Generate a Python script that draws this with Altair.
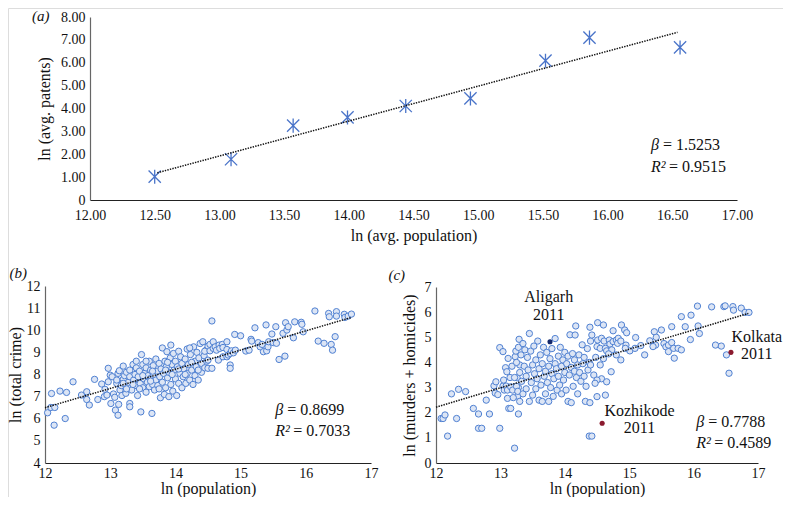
import altair as alt
import pandas as pd

FONT = "Liberation Serif"

# ---------------- data ----------------
# (a) binned averages
a_pop = [12.50, 13.09, 13.57, 13.99, 14.44, 14.94, 15.52, 15.86, 16.56]
a_pat = [1.02, 1.78, 3.25, 3.61, 4.11, 4.44, 6.09, 7.10, 6.67]
a_fit_x = [12.52, 16.54]
a_fit_y = [1.19, 7.33]
a_stats = ["= 1.5253", "= 0.9515"]

# (b) ln(population) vs ln(total crime)
b_points = [
    (12.04, 6.27), (12.10, 7.14), (12.09, 6.51), (12.15, 6.51), (12.14, 5.71), (12.23, 7.25),
    (12.31, 6.01), (12.33, 7.19), (12.43, 7.67), (12.56, 7.07), (12.64, 7.22), (12.64, 6.87),
    (12.68, 6.62), (12.76, 7.78), (12.81, 6.87), (12.87, 7.57), (12.91, 7.0), (12.92, 7.33),
    (12.95, 7.07),
    (12.97, 8.28), (13.0, 7.97), (12.97, 7.67), (13.01, 6.69), (13.03, 7.9), (13.05, 7.12),
    (13.07, 6.97), (13.08, 6.39), (13.1, 7.6), (13.12, 6.16), (13.12, 8.05), (13.13, 6.65),
    (13.14, 8.17), (13.15, 7.3), (13.17, 7.5), (13.18, 7.05), (13.2, 7.78), (13.2, 8.38),
    (13.22, 7.95), (13.24, 7.15), (13.25, 8.1), (13.27, 7.45), (13.28, 7.65), (13.3, 6.69),
    (13.3, 6.54), (13.3, 8.2), (13.3, 7.9),
    (13.33, 7.3), (13.35, 8.45), (13.36, 7.75), (13.38, 8.0), (13.4, 7.5), (13.4, 8.3),
    (13.42, 7.05), (13.43, 7.9), (13.45, 8.15), (13.46, 7.6), (13.47, 6.31), (13.48, 8.9),
    (13.5, 7.4), (13.5, 8.45), (13.52, 7.8), (13.53, 8.05), (13.55, 7.2), (13.55, 8.3),
    (13.57, 7.65), (13.58, 7.95), (13.6, 8.6), (13.6, 7.45), (13.62, 8.2), (13.63, 7.85),
    (13.64, 6.24), (13.65, 7.55), (13.66, 8.4), (13.67, 8.0), (13.68, 7.3), (13.7, 8.7),
    (13.7, 7.75),
    (13.72, 8.15), (13.73, 7.5), (13.75, 8.5), (13.76, 7.9), (13.77, 6.95), (13.78, 8.25),
    (13.8, 9.2), (13.8, 7.65), (13.82, 8.05), (13.83, 7.1), (13.84, 8.6), (13.85, 7.4),
    (13.86, 8.35), (13.87, 9.03), (13.88, 7.85), (13.9, 8.1), (13.9, 7.0), (13.92, 8.75),
    (13.93, 9.33), (13.93, 7.55), (13.95, 8.45), (13.96, 7.25), (13.97, 8.95), (13.98, 8.2),
    (14.0, 7.8), (14.0, 8.6), (14.02, 7.05), (14.03, 8.35), (14.05, 7.6), (14.05, 9.05),
    (14.07, 8.05), (14.08, 8.8), (14.1, 7.4), (14.1, 8.5),
    (14.12, 7.9), (14.13, 8.25), (14.15, 8.7), (14.16, 7.6), (14.18, 9.15), (14.18, 8.05),
    (14.2, 8.45), (14.22, 7.75), (14.23, 8.9), (14.25, 8.2), (14.27, 7.55), (14.28, 9.25),
    (14.3, 8.6), (14.3, 7.95), (14.32, 8.35), (14.33, 9.0), (14.35, 7.75), (14.36, 8.75),
    (14.38, 9.4), (14.4, 8.5), (14.4, 8.1), (14.42, 9.48), (14.44, 8.85), (14.45, 8.3),
    (14.47, 9.1), (14.48, 8.6), (14.5, 9.28), (14.5, 8.28), (14.5, 8.65),
    (13.25, 7.35), (13.45, 7.35), (13.55, 8.6), (13.75, 7.35), (13.95, 8.0), (14.15, 8.0),
    (14.05, 8.25), (13.65, 8.15), (13.85, 8.2), (14.25, 8.55), (14.35, 8.2), (13.35, 7.55),
    (13.5, 7.95), (13.62, 7.7), (13.88, 8.55), (14.22, 9.2), (14.45, 9.05), (13.4, 8.6),
    (13.1, 7.75), (13.2, 7.6),
    (14.53, 9.07), (14.53, 9.36), (14.56, 10.42), (14.56, 8.28), (14.58, 9.48), (14.58, 9.18),
    (14.61, 9.25), (14.63, 9.1), (14.66, 8.65), (14.67, 9.33), (14.68, 9.18), (14.72, 9.36),
    (14.73, 9.22), (14.73, 8.8), (14.79, 9.48), (14.79, 9.13), (14.79, 8.8), (14.81, 8.88),
    (14.84, 8.95), (14.84, 8.43), (14.84, 8.28), (14.86, 9.07), (14.89, 8.98), (14.91, 9.81),
    (14.92, 9.1), (15.0, 9.75),
    (15.08, 9.06), (15.13, 9.1), (15.16, 9.59), (15.17, 9.51), (15.22, 10.11), (15.27, 9.44),
    (15.3, 9.25), (15.33, 9.36), (15.35, 9.03), (15.39, 10.24), (15.4, 9.07), (15.42, 9.25),
    (15.43, 9.48), (15.48, 9.83), (15.5, 9.44), (15.54, 10.16), (15.55, 9.41), (15.59, 8.68),
    (15.65, 9.86), (15.68, 8.83), (15.69, 10.34), (15.71, 10.01), (15.73, 10.16), (15.81, 9.66),
    (15.83, 10.38), (15.93, 10.36), (15.94, 10.27), (15.96, 9.93),
    (16.14, 10.87), (16.19, 9.51), (16.28, 9.41), (16.35, 10.76), (16.36, 10.61), (16.39, 9.36),
    (16.41, 9.1), (16.45, 9.71), (16.47, 10.84), (16.47, 10.64), (16.59, 10.72), (16.6, 10.58),
    (16.65, 10.64), (16.70, 10.73),
]
b_fit_x = [12.0, 16.70]
b_fit_y = [6.50, 10.58]
b_stats = ["= 0.8699", "= 0.7033"]

# (c) ln(population) vs ln(murders + homicides)
c_points = [
    (12.08, 1.77), (12.11, 1.77), (12.14, 1.91), (12.18, 1.07), (12.24, 2.75), (12.32, 1.77),
    (12.35, 2.93), (12.46, 2.84), (12.58, 2.17), (12.66, 1.95), (12.66, 1.38), (12.71, 1.38),
    (12.78, 2.5), (12.83, 1.95), (12.9, 3.07), (12.93, 3.23), (12.92, 2.78), (12.96, 2.72),
    (12.99, 1.38), (12.99, 4.59), (13.04, 4.43), (13.04, 3.06), (13.06, 2.9), (13.09, 3.06),
    (13.11, 2.9), (13.08, 3.79), (13.1, 3.63), (13.12, 4.16), (13.11, 2.57), (13.13, 2.17),
    (13.16, 2.17), (13.16, 3.03), (13.19, 2.9), (13.22, 0.59), (13.23, 4.23), (13.26, 3.39),
    (13.27, 2.66), (13.28, 1.95), (13.29, 4.92), (13.3, 3.9), (13.15, 3.4), (13.18, 3.85),
    (13.2, 2.6), (13.05, 3.3), (13.25, 4.0), (13.28, 3.0),
    (13.22, 3.4), (13.24, 4.45), (13.25, 3.05), (13.27, 2.85), (13.28, 4.6), (13.3, 3.6),
    (13.3, 2.45), (13.32, 4.3), (13.33, 3.25), (13.35, 4.75), (13.35, 2.75), (13.37, 3.85),
    (13.38, 4.5), (13.4, 3.45), (13.4, 2.95), (13.42, 4.2), (13.43, 3.7), (13.45, 5.15),
    (13.45, 2.45), (13.47, 4.45), (13.48, 3.2), (13.5, 3.9), (13.5, 2.7), (13.52, 4.65),
    (13.53, 3.55), (13.55, 4.1), (13.55, 2.95), (13.57, 3.35), (13.58, 4.85), (13.6, 2.5),
    (13.6, 3.75),
    (13.62, 4.3), (13.63, 3.1), (13.65, 3.95), (13.65, 2.45), (13.67, 4.6), (13.68, 3.45),
    (13.7, 2.75), (13.7, 3.65), (13.72, 4.4), (13.73, 3.2), (13.75, 2.45), (13.75, 3.85),
    (13.77, 4.15), (13.78, 3.0), (13.8, 3.55), (13.8, 4.55), (13.82, 2.65), (13.83, 3.35),
    (13.85, 3.95), (13.85, 4.95), (13.87, 3.75), (13.88, 2.9), (13.9, 4.25), (13.9, 3.45),
    (13.92, 3.1), (13.93, 4.6), (13.95, 3.85), (13.95, 2.75),
    (13.97, 4.1), (13.98, 3.3), (14.0, 3.6), (14.0, 4.4), (14.02, 2.9), (14.03, 3.95),
    (14.05, 4.25), (14.05, 2.45), (14.07, 3.5), (14.08, 5.1), (14.1, 3.8), (14.1, 2.4),
    (14.12, 4.35), (14.13, 3.05), (14.15, 3.65), (14.15, 4.1), (14.17, 5.45), (14.18, 3.4),
    (14.2, 3.9), (14.2, 2.75), (14.22, 4.3), (14.23, 3.6), (14.25, 3.25), (14.27, 4.7),
    (14.28, 3.95), (14.3, 3.45), (14.3, 4.2), (14.32, 2.45), (14.33, 3.05), (14.35, 4.55),
    (14.36, 3.7), (14.38, 4.0), (14.4, 4.85), (14.4, 3.9),
    (14.38, 1.07), (14.42, 1.07), (14.39, 2.4), (14.39, 5.4), (14.42, 5.09), (14.16, 5.09),
    (14.55, 3.9), (14.6, 4.15), (14.45, 3.5), (14.48, 4.2), (14.57, 3.35),
    (14.51, 5.58), (14.6, 5.49), (14.51, 4.89), (14.57, 4.96), (14.61, 4.85), (14.69, 4.89),
    (14.7, 4.73), (14.75, 4.83), (14.8, 4.89), (14.83, 4.96), (14.82, 4.76), (14.75, 5.26),
    (14.5, 4.63), (14.55, 4.56), (14.63, 4.56), (14.65, 4.46), (14.73, 4.5), (14.68, 4.34),
    (14.88, 5.49), (14.93, 5.29), (14.96, 5.18), (14.87, 4.85), (14.95, 4.69), (15.01, 4.46),
    (14.94, 4.56), (14.8, 4.3), (14.87, 4.1), (15.1, 4.99), (14.72, 3.63), (14.65, 3.23),
    (14.5, 3.3), (14.47, 3.17), (14.63, 2.7), (14.5, 2.64), (15.09, 4.56), (15.18, 4.67),
    (15.24, 4.3), (15.32, 4.86), (15.39, 5.22), (15.42, 5.0), (15.41, 4.69), (15.37, 4.63),
    (15.5, 5.29), (15.54, 4.75), (15.57, 4.62), (15.61, 4.69), (15.61, 4.43), (15.66, 4.79),
    (15.69, 4.56), (15.66, 5.42), (15.76, 4.56), (15.81, 4.5), (15.7, 4.17), (15.81, 5.82),
    (15.87, 5.42), (15.96, 5.88), (15.95, 4.91), (16.06, 6.24), (16.07, 5.45), (16.09, 5.15),
    (16.28, 6.21), (16.34, 4.69), (16.43, 4.65), (16.47, 6.22), (16.49, 6.25), (16.61, 6.22),
    (16.62, 6.08), (16.74, 6.16), (16.8, 5.99), (16.86, 5.99), (16.51, 4.3), (16.55, 3.57),
]
c_fit_x = [12.0, 16.85]
c_fit_y = [2.22, 5.95]
c_stats = ["= 0.7788", "= 0.4589"]
c_cities = ["Aligarh", "Kozhikode", "Kolkata"]
c_city_x = [13.77, 14.58, 16.58]
c_city_y = [4.82, 1.58, 4.40]
c_city_col = ["#14286b", "#8b1a2e", "#8b1a2e"]
c_label_x = [13.75, 15.16, 16.98]
c_label_y1 = [6.60, 2.08, 5.02]
c_label_y2 = [5.89, 1.38, 4.33]

# ---------------- styling helpers ----------------
PT_FILL = "#dce5f5"
PT_STROKE = "#5081d2"
STAR = "M-1,-1L1,1M-1,1L1,-1M0,-1.15L0,1.15"
W, H = 775, 489


def xaxis(values, fmt, offset, title, lpad, tpad):
    return alt.Axis(values=values, format=fmt, orient="bottom", offset=offset, title=title,
                    grid=False, ticks=False, domainColor="#222", domainWidth=1.2,
                    labelFont=FONT, labelFontSize=14, labelColor="#111", labelPadding=lpad,
                    labelFlush=False, labelOverlap=False,
                    titleFont=FONT, titleFontSize=16, titleFontWeight="normal",
                    titleColor="#111", titlePadding=tpad)


def yaxis(values, offset, title, tpad, expr=None):
    kw = dict(values=values, orient="left", offset=offset, title=title,
              grid=False, ticks=False, domainColor="#666", domainWidth=1.2,
              labelFont=FONT, labelFontSize=14, labelColor="#111", labelPadding=5,
              labelOverlap=False,
              titleFont=FONT, titleFontSize=16, titleFontWeight="normal",
              titleColor="#111", titlePadding=tpad)
    if expr:
        kw["labelExpr"] = expr
    return alt.Axis(**kw)


def stat_layers(xs, ys, xv, yv, stats, ax, ay, dxs=(12, 18)):
    out = []
    syms = ["β", "R²"]
    for i in range(2):
        d = pd.DataFrame({"x": [xs], "y": [ys[i]], "s": [syms[i]], "v": [stats[i]]})
        out.append(alt.Chart(d).mark_text(align="left", baseline="middle", font=FONT,
                                          fontSize=16, fontStyle="italic", color="#111").encode(
            x=alt.X("x:Q", scale=xv, axis=ax), y=alt.Y("y:Q", scale=yv, axis=ay), text="s:N"))
        out.append(alt.Chart(d).mark_text(align="left", baseline="middle", font=FONT,
                                          fontSize=16, dx=dxs[i], color="#111").encode(
            x=alt.X("x:Q", scale=xv, axis=ax), y=alt.Y("y:Q", scale=yv, axis=ay), text="v:N"))
    return out


def panel_label(txt, x, y, xv, yv, ax, ay):
    d = pd.DataFrame({"x": [x], "y": [y], "t": [txt]})
    return alt.Chart(d).mark_text(font=FONT, fontSize=15, fontStyle="italic", color="#111",
                                  baseline="middle").encode(
        x=alt.X("x:Q", scale=xv, axis=ax), y=alt.Y("y:Q", scale=yv, axis=ay), text="t:N")


# ---------------- panel (a) ----------------
xa = alt.Scale(domain=[12, 17], range=[82, 729], nice=False, zero=False)
ya = alt.Scale(domain=[0, 8], range=[192, 9], nice=False, zero=False)
axa_x = xaxis([12 + 0.5 * i for i in range(11)], ".2f", 192 - H, "ln (avg. population)", 8, 5)
axa_y = yaxis(list(range(9)), -82, "ln (avg. patents)", 8,
              "datum.value == 0 ? '0' : format(datum.value, '.2f')")

dfa = pd.DataFrame({"x": a_pop, "y": a_pat})
pa = alt.Chart(dfa).mark_point(shape=STAR, filled=False, size=150, strokeWidth=1.3,
                               color="#4a74c9", opacity=1).encode(
    x=alt.X("x:Q", scale=xa, axis=axa_x), y=alt.Y("y:Q", scale=ya, axis=axa_y))
fa = alt.Chart(pd.DataFrame({"x": a_fit_x, "y": a_fit_y})).mark_line(
    color="#111", strokeWidth=1.5, strokeDash=[1.4, 1.2]).encode(
    x=alt.X("x:Q", scale=xa, axis=axa_x), y=alt.Y("y:Q", scale=ya, axis=axa_y))
panel_a = alt.layer(pa, fa, *stat_layers(16.335, [2.40, 1.45], xa, ya, a_stats, axa_x, axa_y),
                    panel_label("(a)", 11.62, 8.03, xa, ya, axa_x, axa_y))

# ---------------- panel (b) ----------------
xb = alt.Scale(domain=[12, 17], range=[37, 363], nice=False, zero=False)
yb = alt.Scale(domain=[4, 12], range=[455, 278], nice=False, zero=False)
axb_x = xaxis(list(range(12, 18)), "d", 455 - H, "ln (population)", 3, 0)
axb_y = yaxis(list(range(4, 13)), -37, "ln (total crime)", 3)

dfb = pd.DataFrame(b_points, columns=["x", "y"])
pb = alt.Chart(dfb).mark_point(shape="circle", filled=True, fill=PT_FILL, stroke=PT_STROKE,
                               strokeWidth=1, size=40, opacity=1).encode(
    x=alt.X("x:Q", scale=xb, axis=axb_x), y=alt.Y("y:Q", scale=yb, axis=axb_y))
fb = alt.Chart(pd.DataFrame({"x": b_fit_x, "y": b_fit_y})).mark_line(
    color="#111", strokeWidth=1.5, strokeDash=[1.4, 1.2]).encode(
    x=alt.X("x:Q", scale=xb, axis=axb_x), y=alt.Y("y:Q", scale=yb, axis=axb_y))
panel_b = alt.layer(pb, fb, *stat_layers(15.53, [6.39, 5.45], xb, yb, b_stats, axb_x, axb_y),
                    panel_label("(b)", 11.59, 12.6, xb, yb, axb_x, axb_y))

# ---------------- panel (c) ----------------
xc = alt.Scale(domain=[12, 17], range=[428, 750], nice=False, zero=False)
yc = alt.Scale(domain=[0, 7], range=[455, 279], nice=False, zero=False)
axc_x = xaxis(list(range(12, 18)), "d", 455 - H, "ln (population)", 3, 0)
axc_y = yaxis(list(range(0, 8)), -428, "ln (murders + homicides)", 7)

dfc = pd.DataFrame(c_points, columns=["x", "y"])
pc = alt.Chart(dfc).mark_point(shape="circle", filled=True, fill=PT_FILL, stroke=PT_STROKE,
                               strokeWidth=1, size=40, opacity=1).encode(
    x=alt.X("x:Q", scale=xc, axis=axc_x), y=alt.Y("y:Q", scale=yc, axis=axc_y))
dfcity = pd.DataFrame({"x": c_city_x, "y": c_city_y, "city": c_cities, "col": c_city_col,
                       "lx": c_label_x, "ly1": c_label_y1, "ly2": c_label_y2})
hc = alt.Chart(dfcity).mark_point(shape="circle", filled=True, size=26, opacity=1).encode(
    x=alt.X("x:Q", scale=xc, axis=axc_x), y=alt.Y("y:Q", scale=yc, axis=axc_y),
    color=alt.Color("col:N", scale=None))
t1 = alt.Chart(dfcity).mark_text(font=FONT, fontSize=16, color="#111", baseline="middle").encode(
    x=alt.X("lx:Q", scale=xc, axis=axc_x), y=alt.Y("ly1:Q", scale=yc, axis=axc_y), text="city:N")
t2 = alt.Chart(dfcity).transform_calculate(yr="'2011'").mark_text(
    font=FONT, fontSize=16, color="#111", baseline="middle").encode(
    x=alt.X("lx:Q", scale=xc, axis=axc_x), y=alt.Y("ly2:Q", scale=yc, axis=axc_y), text="yr:N")
fc = alt.Chart(pd.DataFrame({"x": c_fit_x, "y": c_fit_y})).mark_line(
    color="#111", strokeWidth=1.5, strokeDash=[1.4, 1.2]).encode(
    x=alt.X("x:Q", scale=xc, axis=axc_x), y=alt.Y("y:Q", scale=yc, axis=axc_y))
panel_c = alt.layer(pc, hc, fc, t1, t2,
                    *stat_layers(16.04, [1.64, 0.81], xc, yc, c_stats, axc_x, axc_y),
                    panel_label("(c)", 11.39, 7.48, xc, yc, axc_x, axc_y))

chart = alt.layer(panel_a, panel_b, panel_c).resolve_scale(
    x="independent", y="independent").properties(
    width=W, height=H, autosize=alt.AutoSizeParams(type="none"), padding=0
).configure_view(stroke=None).configure(
    background="white", font=FONT,
    style={"guide-label": {"font": FONT}, "guide-title": {"font": FONT}},
).configure_axis(labelFont=FONT, titleFont=FONT).configure_text(font=FONT)

chart.save("out.html", embed_options={"renderer": "svg", "actions": False})
